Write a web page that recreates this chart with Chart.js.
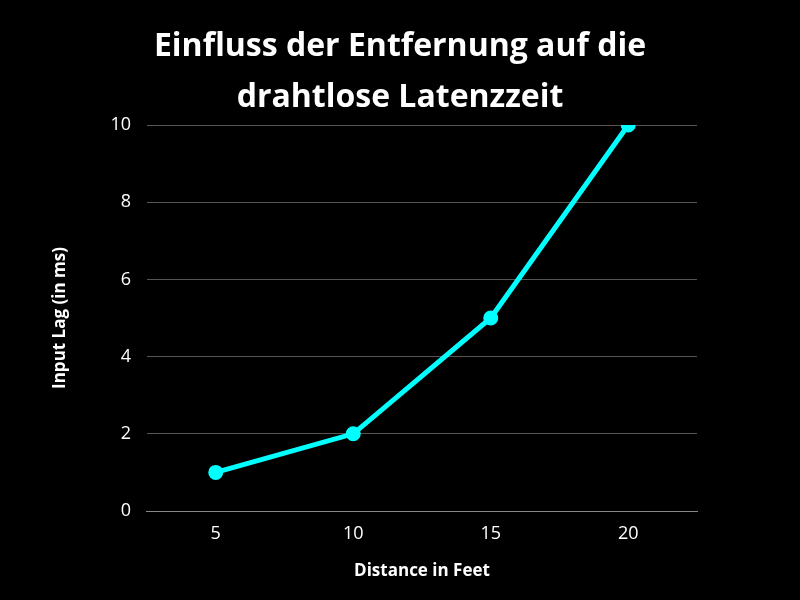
<!DOCTYPE html>
<html>
<head>
<meta charset="utf-8">
<script src="https://cdn.jsdelivr.net/npm/chart.js@4"></script>
<style>
  html, body { margin: 0; padding: 0; background: #000; }
  #wrap { width: 800px; height: 600px; }
</style>
</head>
<body>
<div id="wrap"><canvas id="lag-chart"></canvas></div>
<script>
const distances = ["5", "10", "15", "20"]
const inputLag = [1, 2, 5, 10]
const titleLines = ["Einfluss der Entfernung auf die", "drahtlose Latenzzeit"]

Chart.defaults.font.family = "'Open Sans', 'Noto Sans', sans-serif"
Chart.defaults.color = "#ffffff"

// title centred on the whole canvas, not on the padded chart box
const pageTitle = {
    id: "pageTitle",
    afterDraw(chart) {
        const ctx = chart.ctx
        ctx.save()
        ctx.fillStyle = "#ffffff"
        ctx.font = "bold 32px 'Open Sans', 'Noto Sans', sans-serif"
        ctx.textAlign = "center"
        ctx.textBaseline = "middle"
        titleLines.forEach((line, i) => ctx.fillText(line, 400, 47 + i * 51))
        ctx.restore()
    },
}

const canvas = document.getElementById("lag-chart")
new Chart(canvas, {
    type: "line",
    data: {
        labels: distances,
        datasets: [
            {
                label: "Input Lag",
                data: inputLag,
                borderColor: "#00ffff",
                backgroundColor: "#00ffff",
                borderWidth: 5,
                pointRadius: 5,
                pointHoverRadius: 5,
                tension: 0,
            },
        ],
    },
    options: {
        responsive: true,
        maintainAspectRatio: false,
        animation: false,
        layout: { padding: { top: 125, right: 103, bottom: 15, left: 46 } },
        plugins: {
            legend: { display: false },
            tooltip: { enabled: false },
            title: { display: false },
        },
        scales: {
            x: {
                offset: true,
                grid: { display: false, drawTicks: false },
                border: { color: "#888888", width: 1 },
                ticks: { color: "#ffffff", font: { size: 18 }, padding: 12 },
                title: {
                    display: true,
                    text: "Distance in Feet",
                    color: "#ffffff",
                    font: { size: 17, weight: "bold" },
                    padding: { top: 4 },
                },
            },
            y: {
                min: 0,
                max: 10,
                ticks: { stepSize: 2, color: "#ffffff", font: { size: 18 }, padding: 16 },
                grid: { color: "#555555", drawTicks: false },
                border: { display: false },
                title: {
                    display: true,
                    text: "Input Lag (in ms)",
                    color: "#ffffff",
                    font: { size: 17, weight: "bold" },
                    padding: { bottom: 24 },
                },
            },
        },
    },
    plugins: [pageTitle],
})
</script>
</body>
</html>
